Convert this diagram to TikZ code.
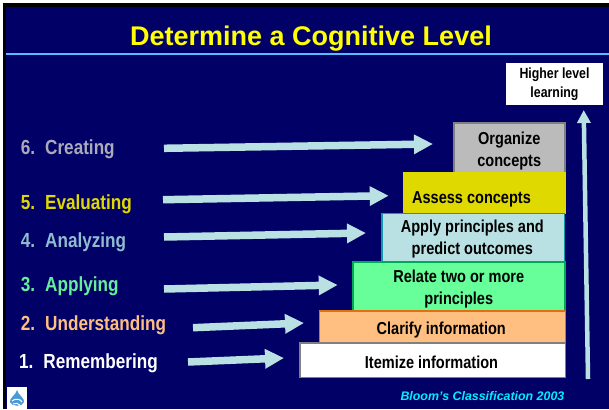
\documentclass[tikz,border=0pt]{standalone}
\usepackage{fontspec}
\usepackage{tikz}
\usetikzlibrary{arrows.meta}
\setmainfont{Liberation Sans}
\newfontfamily\narrowfont[FakeStretch=0.84]{Liberation Sans}
\definecolor{slidenavy}{HTML}{000066}
\definecolor{rulecyan}{HTML}{55BBFF}
\definecolor{arrowice}{HTML}{B9E1E3}
\definecolor{titleyellow}{HTML}{FFFF00}
\definecolor{sourcecyan}{HTML}{00EEFF}
\definecolor{stairgrey}{HTML}{BBBBBB}
\definecolor{stairyellow}{HTML}{E0D900}
\definecolor{stairgreen}{HTML}{66FF99}
\definecolor{stairorange}{HTML}{FFBF80}
\definecolor{edgegrey}{HTML}{808080}
\definecolor{edgeteal}{HTML}{1199AA}
\definecolor{edgegreen}{HTML}{00AA55}
\definecolor{edgeorange}{HTML}{E07010}
\definecolor{nameblue}{HTML}{90BCD0}
\definecolor{namegrey}{HTML}{AAAABB}
\definecolor{namegreen}{HTML}{66EE99}
\definecolor{logoblue}{HTML}{4A9AD8}

\begin{document}
\begin{tikzpicture}[x=1pt,y=-1pt,>={Triangle[length=19pt,width=18.5pt]}]
	\tikzstyle{levelbox}=[rectangle,draw,line width=1.5pt,inner sep=0pt,anchor=north west]
	\tikzstyle{boxtext}=[align=center,text=black,inner sep=0pt,font=\narrowfont\bfseries\fontsize{17.3}{22}\selectfont]
	\tikzstyle{levelname}=[anchor=base west,inner sep=0pt,font=\narrowfont\bfseries\fontsize{20.4}{22}\selectfont]
	\tikzstyle{levelarrow}=[->,draw=arrowice,line width=7.5pt]

	\useasboundingbox (0,0) rectangle (609,409);
	\fill[white] (0,0) rectangle (609,409);
	\fill[black] (3,3) rectangle (609,409);
	\fill[slidenavy] (6,7) rectangle (609,409);
	\fill[rulecyan] (6,53) rectangle (609,55.5);

	\node[text=titleyellow,inner sep=0pt,font=\bfseries\fontsize{27}{30}\selectfont] (title) at (311,38.5) {Determine a Cognitive Level};

	% the stairs, top one first
	\node[levelbox,fill=stairgrey,draw=edgegrey,minimum width=111pt,minimum height=50pt] (b6) at (453,122) {};
	\node[levelbox,fill=stairyellow,draw=stairyellow,line width=0pt,minimum width=162pt,minimum height=41pt] (b5) at (403,172) {};
	\node[levelbox,fill=arrowice,draw=edgeteal,minimum width=182.5pt,minimum height=49pt] (b4) at (381.3,212.5) {};
	\node[levelbox,fill=stairgreen,draw=edgegreen,minimum width=212pt,minimum height=49pt] (b3) at (352,261) {};
	\node[levelbox,fill=stairorange,draw=edgeorange,minimum width=246pt,minimum height=31.5pt] (b2) at (318.5,310) {};
	\node[levelbox,fill=white,draw=edgegrey,minimum width=265.5pt,minimum height=34.5pt] (b1) at (299,342) {};

	\node[boxtext] (t6) at ([yshift=-3pt]b6.center) {Organize\\concepts};
	\node[boxtext] (t5) at ([xshift=-12.5pt,yshift=-7pt]b5.center) {Assess concepts};
	\node[boxtext] (t4) at ([xshift=-1pt,yshift=-1pt]b4.center) {Apply principles and\\predict outcomes};
	\node[boxtext] (t3) at ([yshift=-3pt]b3.center) {Relate two or more\\principles};
	\node[boxtext] (t2) at ([xshift=-1pt,yshift=-3.5pt]b2.center) {Clarify information};
	\node[boxtext] (t1) at ([xshift=-1pt,yshift=-2pt]b1.center) {Itemize information};

	\node[levelname,text=namegrey] (l6) at (20.7,154.3) {\makebox[24.3pt][l]{6.}Creating};
	\node[levelname,text=stairyellow] (l5) at (20.7,209.3) {\makebox[24.3pt][l]{5.}Evaluating};
	\node[levelname,text=nameblue] (l4) at (20.7,247.3) {\makebox[24.3pt][l]{4.}Analyzing};
	\node[levelname,text=namegreen] (l3) at (20.7,291.7) {\makebox[24.3pt][l]{3.}Applying};
	\node[levelname,text=stairorange] (l2) at (20.7,330) {\makebox[24.3pt][l]{2.}Understanding};
	\node[levelname,text=white] (l1) at (19,368.3) {\makebox[24.3pt][l]{1.}Remembering};

	\coordinate (a6) at (164,148.3);
	\coordinate (a5) at (163,199.7);
	\coordinate (a4) at (164,237);
	\coordinate (a3) at (164,289);
	\coordinate (a2) at (193,327.7);
	\coordinate (a1) at (188,362);
	\coordinate (e6) at (433,144);
	\coordinate (e5) at (388.7,195.7);
	\coordinate (e4) at (366,233);
	\coordinate (e3) at (337.7,285);
	\coordinate (e2) at (304,323);
	\coordinate (e1) at (284,358);

	\draw[levelarrow] (a6) -- (e6);
	\draw[levelarrow] (a5) -- (e5);
	\draw[levelarrow] (a4) -- (e4);
	\draw[levelarrow] (a3) -- (e3);
	\draw[levelarrow] (a2) -- (e2);
	\draw[levelarrow] (a1) -- (e1);

	\node[fill=white,text=black,align=center,inner sep=0pt,minimum width=97pt,minimum height=42pt,font=\narrowfont\bfseries\fontsize{14.7}{19}\selectfont] (top) at (554.5,84) {Higher level\\learning};
	\coordinate (a7) at (588,379);
	\coordinate (e7) at (583.7,110);
	\draw[->,>={Triangle[length=13pt,width=13pt]},draw=arrowice,line width=4.5pt] (a7) -- (e7);

	\node[text=sourcecyan,anchor=east,inner sep=0pt,font=\bfseries\itshape\fontsize{12.4}{14}\selectfont] (source) at (564.5,396) {Bloom’s Classification 2003};

	% logo in the corner
	\fill[white] (7,387) rectangle (27,409);
	\fill[logoblue] (17,390) .. controls (18,395) and (25,398) .. (24,402) .. controls (23,407) and (11,407) .. (10,402) .. controls (9,398) and (16,395) .. (17,390);
	\draw[white,line width=1pt] (12,401) .. controls (15,398) and (21,399) .. (22,402);
	\draw[white,line width=1pt] (13,404) .. controls (16,403) and (18,403) .. (20,405);
\end{tikzpicture}
\end{document}
